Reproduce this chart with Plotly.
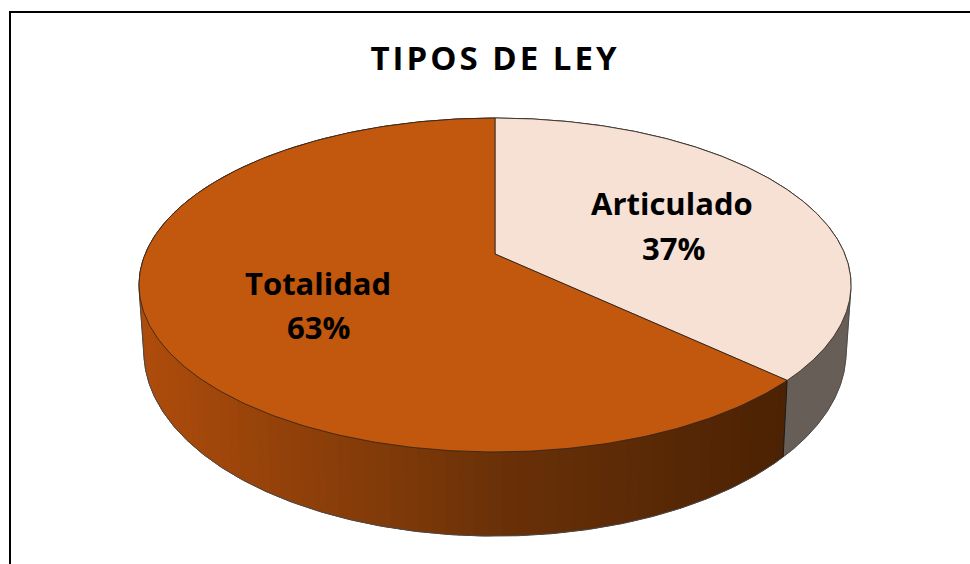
import numpy as np
import plotly.graph_objects as go

TITLE = "TIPOS DE LEY"
categories = ["Articulado", "Totalidad"]
values = [37, 63]

FACE = {"Articulado": "#f6e1d4", "Totalidad": "#c2570e"}
WALL_STOPS_X = [150, 500, 790]
WALL_STOPS_RGB = [(0xad, 0x4c, 0x0c), (0x6a, 0x31, 0x08), (0x4b, 0x22, 0x04)]
GREY_WALL = "#675e57"
LEFT_WALL = "#ad4c0c"
NAME_POS = {"Articulado": (672, 203), "Totalidad": (318, 283)}
SHARE_POS = {"Articulado": (673, 248), "Totalidad": (318, 327)}

# perspective of the pie, expressed in the axis units (page pixels)
CX, K = 495.0, 0.1856
TOP = dict(a=349.8, c=161.2, y0=254.0)
BASE = dict(a=345.0, c=178.0, y0=317.5)


def project(theta_deg, p, r=1.0):
    t = np.radians(theta_deg)
    X, Y = r * np.sin(t), -r * np.cos(t)
    w = 1 - K * Y
    return CX + p["a"] * X / w, p["y0"] + p["c"] * Y / w


def hull(points):
    pts = sorted(set(points))
    def half(seq):
        out = []
        for p in seq:
            while len(out) > 1 and (out[-1][0]-out[-2][0])*(p[1]-out[-2][1]) - (out[-1][1]-out[-2][1])*(p[0]-out[-2][0]) <= 0:
                out.pop()
            out.append(p)
        return out[:-1]
    return half(pts) + half(pts[::-1])


shares = np.array(values) / sum(values) * 360
edges = np.concatenate([[0], np.cumsum(shares)])
split = edges[1]

fig = go.Figure()


def poly(xs, ys, fill, line, width):
    fig.add_trace(go.Scatter(x=xs, y=ys, mode="lines", fill="toself", fillcolor=fill,
                             line=dict(color=line, width=width), hoverinfo="skip"))


# silhouette: the whole solid, filled first so the side notches are covered
th = np.linspace(0, 360, 721)
ux, uy = project(th, TOP)
th2 = np.linspace(55, 305, 501)
lx, ly = project(th2, BASE)
h = hull(list(zip(ux.tolist(), uy.tolist())) + list(zip(lx.tolist(), ly.tolist())))
h.append(h[0])
hx = np.array([p[0] for p in h])
hy = np.array([p[1] for p in h])
poly(hx, hy, GREY_WALL, GREY_WALL, 0.5)
left = hx < CX
poly(hx[left], hy[left], LEFT_WALL, LEFT_WALL, 0.5)

# shaded wall of the second slice, in overlapping strips drawn from the dark end
steps = np.linspace(split, 305, 91)
for a, b in zip(steps[:-1], steps[1:]):
    th = np.array([a, b + (steps[1] - steps[0]) * 0.6])
    ux, uy = project(th, TOP)
    lx, ly = project(th, BASE)
    mid = (ux.mean() + lx.mean()) / 2
    rgb = [np.interp(mid, WALL_STOPS_X, [s[i] for s in WALL_STOPS_RGB]) for i in range(3)]
    col = "rgb(%d,%d,%d)" % tuple(rgb)
    poly(np.r_[ux, lx[::-1], ux[0]], np.r_[uy, ly[::-1], uy[0]], col, col, 0)

# outline of the silhouette
fig.add_trace(go.Scatter(x=hx, y=hy, mode="lines",
                         line=dict(color="#4a4a4a", width=1), hoverinfo="skip"))

# corner edge between the walls
ex = np.r_[project(split, TOP)[0], project(split, BASE)[0]]
ey = np.r_[project(split, TOP)[1], project(split, BASE)[1]]
fig.add_trace(go.Scatter(x=ex, y=ey, mode="lines", line=dict(color="#1a1a1a", width=1), hoverinfo="skip"))

# top faces
ax, ay = project(0.0, TOP, r=0.0)
for name, a, b in zip(categories, edges[:-1], edges[1:]):
    th = np.linspace(a, b, 300)
    x, y = project(th, TOP)
    poly(np.r_[ax, x, ax], np.r_[ay, y, ay], FACE[name], "#2b2118", 0.8)

LABEL_FONT = dict(family="Open Sans", size=31, color="#000000")
for name, v in zip(categories, values):
    nx, ny = NAME_POS[name]
    sx, sy = SHARE_POS[name]
    fig.add_annotation(x=nx, y=ny, xref="x", yref="y", showarrow=False, text=f"<b>{name}</b>", font=LABEL_FONT)
    fig.add_annotation(x=sx, y=sy, xref="x", yref="y", showarrow=False, text=f"<b>{v}%</b>", font=LABEL_FONT)

fig.add_shape(type="rect", x0=10, y0=12, x1=1010, y1=610, xref="x", yref="y",
              line=dict(color="#000000", width=2), layer="above")

fig.update_layout(
    width=970, height=564, margin=dict(l=0, r=0, t=0, b=0), autosize=False,
    paper_bgcolor="#ffffff", plot_bgcolor="#ffffff", showlegend=False,
    title=dict(text=f"<b>{TITLE}</b>", x=495/970, xanchor="center", y=1-58/564, yanchor="middle",
               font=dict(family="Open Sans", size=33, color="#000000")),
    xaxis=dict(range=[0, 970], visible=False, fixedrange=True),
    yaxis=dict(range=[564, 0], visible=False, fixedrange=True),
)

POST = """
document.body.style.margin = '0';
document.querySelectorAll('.gtitle').forEach(function (e) { e.style.letterSpacing = '3px'; });
"""
fig.write_html("out.html", config={"displayModeBar": False}, post_script=POST)
